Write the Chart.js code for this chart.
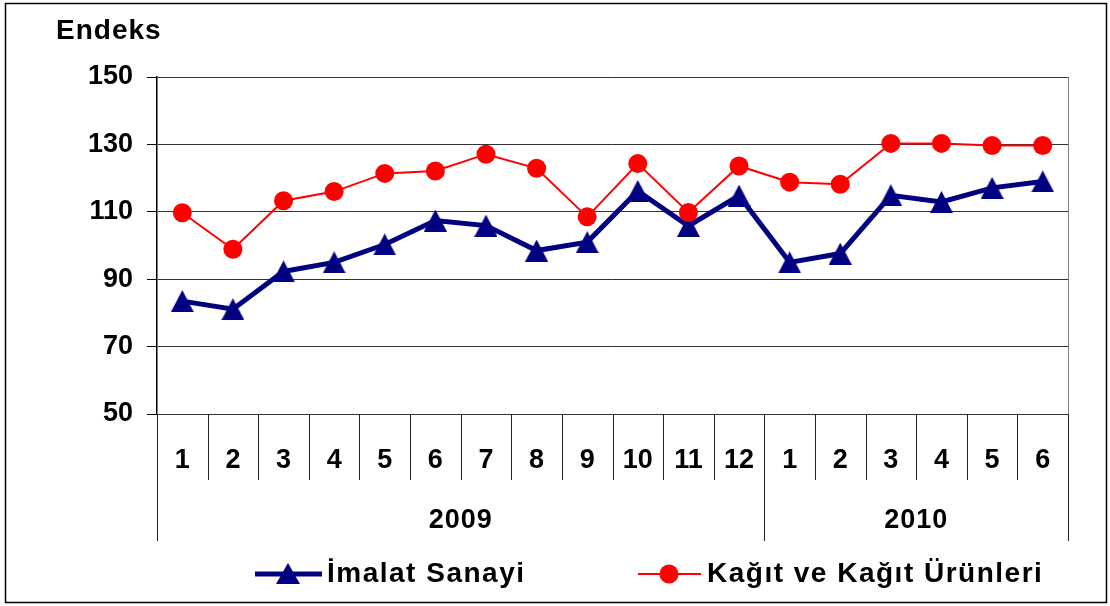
<!DOCTYPE html>
<html>
<head>
<meta charset="utf-8">
<title>Endeks</title>
<script src="https://cdn.jsdelivr.net/npm/chart.js@4/dist/chart.umd.min.js"></script>
<style>
    body { margin: 0; background: #fff; }
    #wrap { width: 1110px; height: 606px; }
</style>
</head>
<body>
<div id="wrap"><canvas id="chart" width="1110" height="606"></canvas></div>
<script>
// Data
const months = ["1", "2", "3", "4", "5", "6", "7", "8", "9", "10", "11", "12", "1", "2", "3", "4", "5", "6"];
const years = ["2009", "2010"];
const yearSpans = [12, 6];
const imalat = [83.5, 81.1, 92.3, 95.0, 100.3, 107.4, 105.9, 98.5, 101.0, 116.2, 105.8, 114.8, 95.0, 97.6, 114.9, 112.9, 117.1, 119.0];
const kagit = [109.7, 98.9, 113.3, 116.0, 121.4, 122.1, 127.1, 122.9, 108.5, 124.3, 109.8, 123.6, 118.8, 118.2, 130.3, 130.3, 129.7, 129.7];
const seriesNames = ["İmalat Sanayi", "Kağıt ve Kağıt Ürünleri"];

const FONT = '"Liberation Sans", Arial, sans-serif';
const NAVY = "#000080";
const RED = "#ff0000";

/**
 * Triangle marker centred on its box, like the spreadsheet one
 */
function makeTriangle(w, h) {
    const c = document.createElement("canvas");
    c.width = w;
    c.height = h;
    const g = c.getContext("2d");
    g.fillStyle = NAVY;
    g.beginPath();
    g.moveTo(w / 2, 0);
    g.lineTo(w, h);
    g.lineTo(0, h);
    g.closePath();
    g.fill();
    return c;
}
const triangle = makeTriangle(23, 22);
const legendTriangle = makeTriangle(24, 21);

/**
 * Draws frame, two-level category axis, title and legend
 */
const decorations = {
    id: "decorations",
    afterDraw(chart) {
        const ctx = chart.ctx;
        const area = chart.chartArea;
        const x = chart.scales.x;
        const n = months.length;
        const step = (area.right - area.left) / n;

        ctx.save();

        // outer frame
        ctx.strokeStyle = "#000";
        ctx.lineWidth = 1.5;
        ctx.strokeRect(5.5, 3.5, 1101, 599);

        // plot border on the right
        ctx.strokeStyle = "#808080";
        ctx.lineWidth = 1;
        ctx.beginPath();
        ctx.moveTo(Math.round(area.right) + 0.5, area.top);
        ctx.lineTo(Math.round(area.right) + 0.5, area.bottom);
        ctx.stroke();

        // month separators
        ctx.strokeStyle = "#222";
        ctx.beginPath();
        for (let i = 0; i <= n; i++) {
            const px = Math.round(area.left + i * step) + 0.5;
            ctx.moveTo(px, area.bottom);
            ctx.lineTo(px, area.bottom + 66);
        }
        // year separators
        let idx = 0;
        const bounds = [0];
        yearSpans.forEach((s) => {
            idx += s;
            bounds.push(idx);
        });
        bounds.forEach((b) => {
            const px = Math.round(area.left + b * step) + 0.5;
            ctx.moveTo(px, area.bottom);
            ctx.lineTo(px, area.bottom + 127);
        });
        ctx.stroke();

        // month labels
        ctx.fillStyle = "#000";
        ctx.font = "bold 27px " + FONT;
        ctx.textAlign = "center";
        ctx.textBaseline = "middle";
        months.forEach((m, i) => {
            ctx.fillText(m, x.getPixelForValue(i), area.bottom + 47);
        });

        // year labels
        ctx.letterSpacing = "1px";
        years.forEach((yr, i) => {
            const cx = area.left + ((bounds[i] + bounds[i + 1]) / 2) * step;
            ctx.fillText(yr, cx, area.bottom + 107);
        });

        // axis title
        ctx.font = "bold 28px " + FONT;
        ctx.textAlign = "left";
        ctx.letterSpacing = "1px";
        ctx.fillText("Endeks", 56, 31);

        // legend
        const ly = 574;
        ctx.letterSpacing = "1.5px";
        ctx.strokeStyle = NAVY;
        ctx.lineWidth = 5;
        ctx.beginPath();
        ctx.moveTo(255, ly);
        ctx.lineTo(322, ly);
        ctx.stroke();
        ctx.drawImage(legendTriangle, 288 - 12, ly - 11);
        ctx.fillText(seriesNames[0], 327, ly);

        ctx.strokeStyle = RED;
        ctx.lineWidth = 2;
        ctx.beginPath();
        ctx.moveTo(638, ly);
        ctx.lineTo(701, ly);
        ctx.stroke();
        ctx.fillStyle = RED;
        ctx.beginPath();
        ctx.arc(669, ly, 9.5, 0, Math.PI * 2);
        ctx.fill();
        ctx.fillStyle = "#000";
        ctx.fillText(seriesNames[1], 707, ly);

        ctx.restore();
    },
};

new Chart(document.getElementById("chart"), {
    type: "line",
    data: {
        labels: months.map((m, i) => i),
        datasets: [
            {
                label: seriesNames[0],
                data: imalat,
                borderColor: NAVY,
                borderWidth: 5,
                pointStyle: triangle,
                pointRadius: 11,
                tension: 0,
                order: 1,
            },
            {
                label: seriesNames[1],
                data: kagit,
                borderColor: RED,
                backgroundColor: RED,
                borderWidth: 2,
                pointStyle: "circle",
                pointRadius: 9.5,
                pointBorderWidth: 0,
                pointBackgroundColor: RED,
                tension: 0,
                order: 0,
            },
        ],
    },
    options: {
        responsive: false,
        animation: false,
        layout: {
            padding: { left: 0, top: 77, right: 42, bottom: 192 },
        },
        scales: {
            x: {
                type: "category",
                offset: true,
                display: false,
            },
            y: {
                min: 50,
                max: 150,
                ticks: {
                    stepSize: 20,
                    color: "#000",
                    padding: 14,
                    font: { family: FONT, weight: "bold", size: 27 },
                },
                grid: {
                    color: "#333",
                    lineWidth: 1,
                    tickLength: 10,
                    tickColor: "#000",
                },
                border: { color: "#000", width: 1.5 },
                afterFit: (scale) => {
                    scale.width = 157;
                },
            },
        },
        plugins: {
            legend: { display: false },
            tooltip: { enabled: false },
        },
    },
    plugins: [decorations],
});
</script>
</body>
</html>
